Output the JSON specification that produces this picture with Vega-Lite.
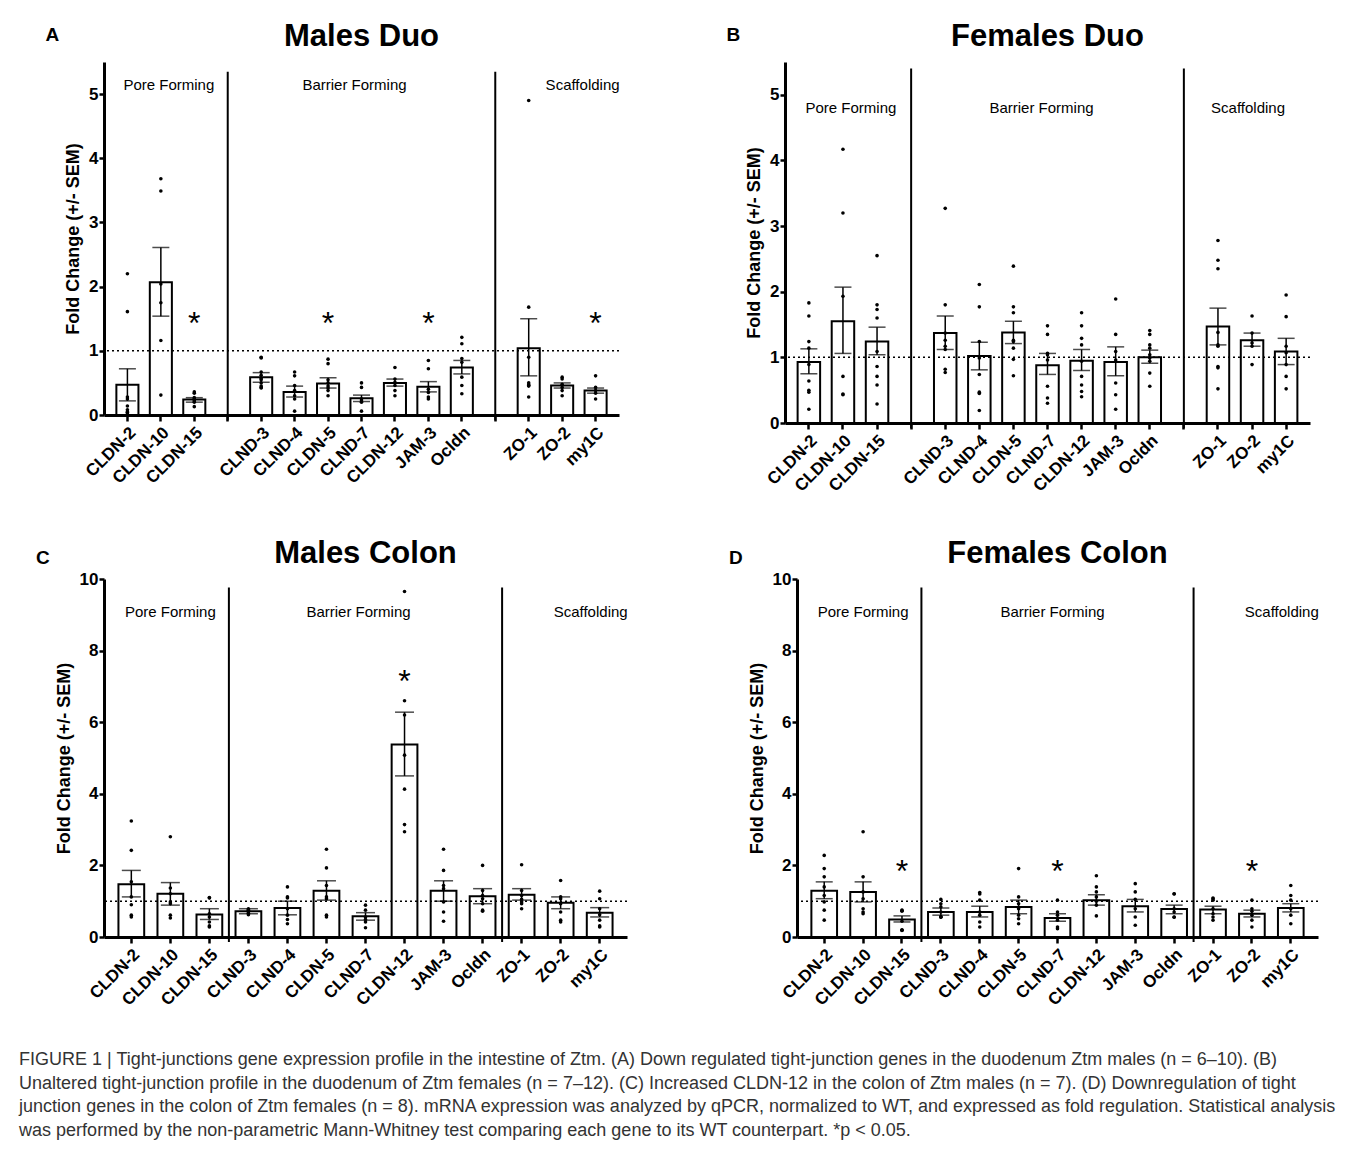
{
"$schema": "https://vega.github.io/schema/vega-lite/v6.json",
"background": "white",
"padding": {"left": 19, "top": 21, "right": 5, "bottom": 5},
"config": {"font": "Liberation Sans", "view": {"stroke": null}, "axis": {"domainColor": "black", "tickColor": "black", "labelColor": "black", "titleColor": "black", "grid": false}},
"title": {"text": ["FIGURE 1 | Tight-junctions gene expression profile in the intestine of Ztm. (A) Down regulated tight-junction genes in the duodenum Ztm males (n = 6–10). (B)", "Unaltered tight-junction profile in the duodenum of Ztm females (n = 7–12). (C) Increased CLDN-12 in the colon of Ztm males (n = 7). (D) Downregulation of tight", "junction genes in the colon of Ztm females (n = 8). mRNA expression was analyzed by qPCR, normalized to WT, and expressed as fold regulation. Statistical analysis", "was performed by the non-parametric Mann-Whitney test comparing each gene to its WT counterpart. *p < 0.05."], "orient": "bottom", "anchor": "start", "frame": "bounds", "fontSize": 18, "fontWeight": "normal", "color": "#333333", "lineHeight": 23.5, "offset": 43, "dx": -17},
"datasets": {
"summary": [
{"p":"A","g":"CLDN-2","m":0.47,"lo":0.22,"hi":0.72},{"p":"A","g":"CLDN-10","m":2.07,"lo":1.54,"hi":2.61},{"p":"A","g":"CLDN-15","m":0.24,"lo":0.2,"hi":0.27},{"p":"A","g":"CLND-3","m":0.59,"lo":0.51,"hi":0.66},{"p":"A","g":"CLND-4","m":0.36,"lo":0.28,"hi":0.45},{"p":"A","g":"CLDN-5","m":0.49,"lo":0.42,"hi":0.58},{"p":"A","g":"CLND-7","m":0.26,"lo":0.21,"hi":0.31},{"p":"A","g":"CLDN-12","m":0.5,"lo":0.45,"hi":0.56},{"p":"A","g":"JAM-3","m":0.44,"lo":0.36,"hi":0.52},{"p":"A","g":"Ocldn","m":0.74,"lo":0.64,"hi":0.85},{"p":"A","g":"ZO-1","m":1.04,"lo":0.61,"hi":1.5},{"p":"A","g":"ZO-2","m":0.46,"lo":0.42,"hi":0.5},{"p":"A","g":"my1C","m":0.38,"lo":0.34,"hi":0.42},
{"p":"B","g":"CLDN-2","m":0.93,"lo":0.75,"hi":1.13},{"p":"B","g":"CLDN-10","m":1.55,"lo":1.06,"hi":2.07},{"p":"B","g":"CLDN-15","m":1.24,"lo":1.04,"hi":1.46},{"p":"B","g":"CLND-3","m":1.37,"lo":1.12,"hi":1.63},{"p":"B","g":"CLND-4","m":1.02,"lo":0.81,"hi":1.23},{"p":"B","g":"CLDN-5","m":1.38,"lo":1.21,"hi":1.55},{"p":"B","g":"CLND-7","m":0.88,"lo":0.74,"hi":1.06},{"p":"B","g":"CLDN-12","m":0.95,"lo":0.8,"hi":1.12},{"p":"B","g":"JAM-3","m":0.93,"lo":0.72,"hi":1.16},{"p":"B","g":"Ocldn","m":1.0,"lo":0.91,"hi":1.11},{"p":"B","g":"ZO-1","m":1.47,"lo":1.19,"hi":1.75},{"p":"B","g":"ZO-2","m":1.26,"lo":1.17,"hi":1.37},{"p":"B","g":"my1C","m":1.09,"lo":0.89,"hi":1.29},
{"p":"C","g":"CLDN-2","m":1.47,"lo":1.12,"hi":1.86},{"p":"C","g":"CLDN-10","m":1.21,"lo":0.89,"hi":1.52},{"p":"C","g":"CLDN-15","m":0.63,"lo":0.49,"hi":0.79},{"p":"C","g":"CLND-3","m":0.72,"lo":0.65,"hi":0.79},{"p":"C","g":"CLND-4","m":0.81,"lo":0.62,"hi":1.0},{"p":"C","g":"CLDN-5","m":1.29,"lo":1.03,"hi":1.57},{"p":"C","g":"CLND-7","m":0.58,"lo":0.47,"hi":0.68},{"p":"C","g":"CLDN-12","m":5.38,"lo":4.5,"hi":6.28},{"p":"C","g":"JAM-3","m":1.29,"lo":1.0,"hi":1.57},{"p":"C","g":"Ocldn","m":1.14,"lo":0.93,"hi":1.35},{"p":"C","g":"ZO-1","m":1.18,"lo":1.03,"hi":1.35},{"p":"C","g":"ZO-2","m":0.96,"lo":0.79,"hi":1.12},{"p":"C","g":"my1C","m":0.68,"lo":0.56,"hi":0.82},
{"p":"D","g":"CLDN-2","m":1.29,"lo":1.07,"hi":1.54},{"p":"D","g":"CLDN-10","m":1.26,"lo":0.98,"hi":1.54},{"p":"D","g":"CLDN-15","m":0.49,"lo":0.42,"hi":0.59},{"p":"D","g":"CLND-3","m":0.7,"lo":0.61,"hi":0.81},{"p":"D","g":"CLND-4","m":0.7,"lo":0.56,"hi":0.86},{"p":"D","g":"CLDN-5","m":0.84,"lo":0.65,"hi":1.03},{"p":"D","g":"CLND-7","m":0.53,"lo":0.44,"hi":0.65},{"p":"D","g":"CLDN-12","m":1.03,"lo":0.89,"hi":1.18},{"p":"D","g":"JAM-3","m":0.86,"lo":0.7,"hi":1.05},{"p":"D","g":"Ocldn","m":0.78,"lo":0.65,"hi":0.89},{"p":"D","g":"ZO-1","m":0.77,"lo":0.65,"hi":0.86},{"p":"D","g":"ZO-2","m":0.65,"lo":0.56,"hi":0.75},{"p":"D","g":"my1C","m":0.81,"lo":0.7,"hi":0.93}
],
"stars": [
{"p":"A","g":"CLDN-15","y":1.54},{"p":"A","g":"CLDN-5","y":1.54},{"p":"A","g":"JAM-3","y":1.54},{"p":"A","g":"my1C","y":1.54},
{"p":"C","g":"CLDN-12","y":7.34},
{"p":"D","g":"CLDN-15","y":2.05},{"p":"D","g":"CLND-7","y":2.05},{"p":"D","g":"ZO-2","y":2.05}
],
"points": [
{"p":"A","g":"CLDN-2","v":2.2},{"p":"A","g":"CLDN-2","v":1.61},{"p":"A","g":"CLDN-2","v":0.28},{"p":"A","g":"CLDN-2","v":0.25},{"p":"A","g":"CLDN-2","v":0.14},{"p":"A","g":"CLDN-2","v":0.08},{"p":"A","g":"CLDN-2","v":0.05},{"p":"A","g":"CLDN-2","v":0.04},{"p":"A","g":"CLDN-2","v":0.03},
{"p":"A","g":"CLDN-10","v":3.68},{"p":"A","g":"CLDN-10","v":3.49},{"p":"A","g":"CLDN-10","v":2.04},{"p":"A","g":"CLDN-10","v":1.75},{"p":"A","g":"CLDN-10","v":1.16},{"p":"A","g":"CLDN-10","v":0.31},
{"p":"A","g":"CLDN-15","v":0.36},{"p":"A","g":"CLDN-15","v":0.34},{"p":"A","g":"CLDN-15","v":0.27},{"p":"A","g":"CLDN-15","v":0.25},{"p":"A","g":"CLDN-15","v":0.24},{"p":"A","g":"CLDN-15","v":0.22},{"p":"A","g":"CLDN-15","v":0.2},{"p":"A","g":"CLDN-15","v":0.13},
{"p":"A","g":"CLND-3","v":0.9},{"p":"A","g":"CLND-3","v":0.89},{"p":"A","g":"CLND-3","v":0.67},{"p":"A","g":"CLND-3","v":0.62},{"p":"A","g":"CLND-3","v":0.57},{"p":"A","g":"CLND-3","v":0.55},{"p":"A","g":"CLND-3","v":0.5},{"p":"A","g":"CLND-3","v":0.45},{"p":"A","g":"CLND-3","v":0.43},{"p":"A","g":"CLND-3","v":0.42},
{"p":"A","g":"CLND-4","v":0.67},{"p":"A","g":"CLND-4","v":0.61},{"p":"A","g":"CLND-4","v":0.46},{"p":"A","g":"CLND-4","v":0.38},{"p":"A","g":"CLND-4","v":0.3},{"p":"A","g":"CLND-4","v":0.25},{"p":"A","g":"CLND-4","v":0.06},
{"p":"A","g":"CLDN-5","v":0.87},{"p":"A","g":"CLDN-5","v":0.8},{"p":"A","g":"CLDN-5","v":0.55},{"p":"A","g":"CLDN-5","v":0.5},{"p":"A","g":"CLDN-5","v":0.45},{"p":"A","g":"CLDN-5","v":0.42},{"p":"A","g":"CLDN-5","v":0.38},{"p":"A","g":"CLDN-5","v":0.3},
{"p":"A","g":"CLND-7","v":0.5},{"p":"A","g":"CLND-7","v":0.43},{"p":"A","g":"CLND-7","v":0.25},{"p":"A","g":"CLND-7","v":0.22},{"p":"A","g":"CLND-7","v":0.2},{"p":"A","g":"CLND-7","v":0.06},
{"p":"A","g":"CLDN-12","v":0.74},{"p":"A","g":"CLDN-12","v":0.56},{"p":"A","g":"CLDN-12","v":0.51},{"p":"A","g":"CLDN-12","v":0.46},{"p":"A","g":"CLDN-12","v":0.38},{"p":"A","g":"CLDN-12","v":0.3},
{"p":"A","g":"JAM-3","v":0.85},{"p":"A","g":"JAM-3","v":0.72},{"p":"A","g":"JAM-3","v":0.4},{"p":"A","g":"JAM-3","v":0.35},{"p":"A","g":"JAM-3","v":0.28},{"p":"A","g":"JAM-3","v":0.25},
{"p":"A","g":"Ocldn","v":1.21},{"p":"A","g":"Ocldn","v":1.11},{"p":"A","g":"Ocldn","v":0.88},{"p":"A","g":"Ocldn","v":0.82},{"p":"A","g":"Ocldn","v":0.59},{"p":"A","g":"Ocldn","v":0.46},{"p":"A","g":"Ocldn","v":0.33},
{"p":"A","g":"ZO-1","v":4.9},{"p":"A","g":"ZO-1","v":1.68},{"p":"A","g":"ZO-1","v":0.9},{"p":"A","g":"ZO-1","v":0.5},{"p":"A","g":"ZO-1","v":0.47},{"p":"A","g":"ZO-1","v":0.46},{"p":"A","g":"ZO-1","v":0.45},{"p":"A","g":"ZO-1","v":0.28},
{"p":"A","g":"ZO-2","v":0.59},{"p":"A","g":"ZO-2","v":0.56},{"p":"A","g":"ZO-2","v":0.48},{"p":"A","g":"ZO-2","v":0.43},{"p":"A","g":"ZO-2","v":0.38},{"p":"A","g":"ZO-2","v":0.3},
{"p":"A","g":"my1C","v":0.61},{"p":"A","g":"my1C","v":0.43},{"p":"A","g":"my1C","v":0.38},{"p":"A","g":"my1C","v":0.34},{"p":"A","g":"my1C","v":0.25},
{"p":"B","g":"CLDN-2","v":1.83},{"p":"B","g":"CLDN-2","v":1.63},{"p":"B","g":"CLDN-2","v":1.24},{"p":"B","g":"CLDN-2","v":1.14},{"p":"B","g":"CLDN-2","v":0.89},{"p":"B","g":"CLDN-2","v":0.64},{"p":"B","g":"CLDN-2","v":0.5},{"p":"B","g":"CLDN-2","v":0.47},{"p":"B","g":"CLDN-2","v":0.21},
{"p":"B","g":"CLDN-10","v":4.17},{"p":"B","g":"CLDN-10","v":3.2},{"p":"B","g":"CLDN-10","v":1.93},{"p":"B","g":"CLDN-10","v":0.71},{"p":"B","g":"CLDN-10","v":0.44},{"p":"B","g":"CLDN-10","v":0.43},
{"p":"B","g":"CLDN-15","v":2.55},{"p":"B","g":"CLDN-15","v":1.8},{"p":"B","g":"CLDN-15","v":1.73},{"p":"B","g":"CLDN-15","v":1.6},{"p":"B","g":"CLDN-15","v":1.09},{"p":"B","g":"CLDN-15","v":0.86},{"p":"B","g":"CLDN-15","v":0.71},{"p":"B","g":"CLDN-15","v":0.58},{"p":"B","g":"CLDN-15","v":0.29},
{"p":"B","g":"CLND-3","v":3.27},{"p":"B","g":"CLND-3","v":1.8},{"p":"B","g":"CLND-3","v":1.37},{"p":"B","g":"CLND-3","v":1.26},{"p":"B","g":"CLND-3","v":1.17},{"p":"B","g":"CLND-3","v":1.12},{"p":"B","g":"CLND-3","v":0.82},{"p":"B","g":"CLND-3","v":0.77},
{"p":"B","g":"CLND-4","v":2.11},{"p":"B","g":"CLND-4","v":1.77},{"p":"B","g":"CLND-4","v":1.24},{"p":"B","g":"CLND-4","v":0.99},{"p":"B","g":"CLND-4","v":0.74},{"p":"B","g":"CLND-4","v":0.47},{"p":"B","g":"CLND-4","v":0.45},{"p":"B","g":"CLND-4","v":0.19},
{"p":"B","g":"CLDN-5","v":2.39},{"p":"B","g":"CLDN-5","v":1.77},{"p":"B","g":"CLDN-5","v":1.68},{"p":"B","g":"CLDN-5","v":1.26},{"p":"B","g":"CLDN-5","v":1.24},{"p":"B","g":"CLDN-5","v":1.14},{"p":"B","g":"CLDN-5","v":0.97},{"p":"B","g":"CLDN-5","v":0.72},
{"p":"B","g":"CLND-7","v":1.48},{"p":"B","g":"CLND-7","v":1.35},{"p":"B","g":"CLND-7","v":1.06},{"p":"B","g":"CLND-7","v":1.04},{"p":"B","g":"CLND-7","v":0.96},{"p":"B","g":"CLND-7","v":0.56},{"p":"B","g":"CLND-7","v":0.38},{"p":"B","g":"CLND-7","v":0.3},
{"p":"B","g":"CLDN-12","v":1.68},{"p":"B","g":"CLDN-12","v":1.48},{"p":"B","g":"CLDN-12","v":1.29},{"p":"B","g":"CLDN-12","v":1.19},{"p":"B","g":"CLDN-12","v":0.94},{"p":"B","g":"CLDN-12","v":0.71},{"p":"B","g":"CLDN-12","v":0.58},{"p":"B","g":"CLDN-12","v":0.48},{"p":"B","g":"CLDN-12","v":0.4},
{"p":"B","g":"JAM-3","v":1.89},{"p":"B","g":"JAM-3","v":1.35},{"p":"B","g":"JAM-3","v":1.09},{"p":"B","g":"JAM-3","v":0.96},{"p":"B","g":"JAM-3","v":0.61},{"p":"B","g":"JAM-3","v":0.43},{"p":"B","g":"JAM-3","v":0.21},
{"p":"B","g":"Ocldn","v":1.41},{"p":"B","g":"Ocldn","v":1.35},{"p":"B","g":"Ocldn","v":1.19},{"p":"B","g":"Ocldn","v":1.14},{"p":"B","g":"Ocldn","v":1.04},{"p":"B","g":"Ocldn","v":0.99},{"p":"B","g":"Ocldn","v":0.94},{"p":"B","g":"Ocldn","v":0.76},{"p":"B","g":"Ocldn","v":0.56},
{"p":"B","g":"ZO-1","v":2.78},{"p":"B","g":"ZO-1","v":2.48},{"p":"B","g":"ZO-1","v":2.35},{"p":"B","g":"ZO-1","v":1.38},{"p":"B","g":"ZO-1","v":1.19},{"p":"B","g":"ZO-1","v":1.17},{"p":"B","g":"ZO-1","v":0.86},{"p":"B","g":"ZO-1","v":0.84},{"p":"B","g":"ZO-1","v":0.52},
{"p":"B","g":"ZO-2","v":1.63},{"p":"B","g":"ZO-2","v":1.37},{"p":"B","g":"ZO-2","v":1.22},{"p":"B","g":"ZO-2","v":1.17},{"p":"B","g":"ZO-2","v":0.89},
{"p":"B","g":"my1C","v":1.95},{"p":"B","g":"my1C","v":1.62},{"p":"B","g":"my1C","v":1.17},{"p":"B","g":"my1C","v":1.07},{"p":"B","g":"my1C","v":0.89},{"p":"B","g":"my1C","v":0.71},{"p":"B","g":"my1C","v":0.52},
{"p":"C","g":"CLDN-2","v":3.24},{"p":"C","g":"CLDN-2","v":2.42},{"p":"C","g":"CLDN-2","v":1.54},{"p":"C","g":"CLDN-2","v":1.12},{"p":"C","g":"CLDN-2","v":0.9},{"p":"C","g":"CLDN-2","v":0.61},{"p":"C","g":"CLDN-2","v":0.56},
{"p":"C","g":"CLDN-10","v":2.8},{"p":"C","g":"CLDN-10","v":1.37},{"p":"C","g":"CLDN-10","v":1.21},{"p":"C","g":"CLDN-10","v":0.98},{"p":"C","g":"CLDN-10","v":0.93},{"p":"C","g":"CLDN-10","v":0.61},{"p":"C","g":"CLDN-10","v":0.53},
{"p":"C","g":"CLDN-15","v":1.1},{"p":"C","g":"CLDN-15","v":1.09},{"p":"C","g":"CLDN-15","v":0.65},{"p":"C","g":"CLDN-15","v":0.56},{"p":"C","g":"CLDN-15","v":0.42},{"p":"C","g":"CLDN-15","v":0.31},{"p":"C","g":"CLDN-15","v":0.28},
{"p":"C","g":"CLND-3","v":0.79},{"p":"C","g":"CLND-3","v":0.77},{"p":"C","g":"CLND-3","v":0.75},{"p":"C","g":"CLND-3","v":0.72},{"p":"C","g":"CLND-3","v":0.7},{"p":"C","g":"CLND-3","v":0.66},{"p":"C","g":"CLND-3","v":0.62},
{"p":"C","g":"CLND-4","v":1.4},{"p":"C","g":"CLND-4","v":1.12},{"p":"C","g":"CLND-4","v":1.09},{"p":"C","g":"CLND-4","v":0.79},{"p":"C","g":"CLND-4","v":0.61},{"p":"C","g":"CLND-4","v":0.49},{"p":"C","g":"CLND-4","v":0.37},
{"p":"C","g":"CLDN-5","v":2.45},{"p":"C","g":"CLDN-5","v":1.93},{"p":"C","g":"CLDN-5","v":1.44},{"p":"C","g":"CLDN-5","v":1.12},{"p":"C","g":"CLDN-5","v":1.07},{"p":"C","g":"CLDN-5","v":0.61},{"p":"C","g":"CLDN-5","v":0.56},
{"p":"C","g":"CLND-7","v":0.89},{"p":"C","g":"CLND-7","v":0.75},{"p":"C","g":"CLND-7","v":0.56},{"p":"C","g":"CLND-7","v":0.49},{"p":"C","g":"CLND-7","v":0.42},{"p":"C","g":"CLND-7","v":0.26},
{"p":"C","g":"CLDN-12","v":9.65},{"p":"C","g":"CLDN-12","v":6.6},{"p":"C","g":"CLDN-12","v":6.2},{"p":"C","g":"CLDN-12","v":5.08},{"p":"C","g":"CLDN-12","v":4.13},{"p":"C","g":"CLDN-12","v":3.14},{"p":"C","g":"CLDN-12","v":2.94},
{"p":"C","g":"JAM-3","v":2.45},{"p":"C","g":"JAM-3","v":1.86},{"p":"C","g":"JAM-3","v":1.44},{"p":"C","g":"JAM-3","v":1.35},{"p":"C","g":"JAM-3","v":0.98},{"p":"C","g":"JAM-3","v":0.7},{"p":"C","g":"JAM-3","v":0.44},
{"p":"C","g":"Ocldn","v":2.0},{"p":"C","g":"Ocldn","v":1.3},{"p":"C","g":"Ocldn","v":1.16},{"p":"C","g":"Ocldn","v":1.07},{"p":"C","g":"Ocldn","v":0.93},{"p":"C","g":"Ocldn","v":0.75},{"p":"C","g":"Ocldn","v":0.72},
{"p":"C","g":"ZO-1","v":2.02},{"p":"C","g":"ZO-1","v":1.3},{"p":"C","g":"ZO-1","v":1.16},{"p":"C","g":"ZO-1","v":1.05},{"p":"C","g":"ZO-1","v":0.98},{"p":"C","g":"ZO-1","v":0.93},{"p":"C","g":"ZO-1","v":0.79},
{"p":"C","g":"ZO-2","v":1.58},{"p":"C","g":"ZO-2","v":1.12},{"p":"C","g":"ZO-2","v":1.07},{"p":"C","g":"ZO-2","v":0.93},{"p":"C","g":"ZO-2","v":0.7},{"p":"C","g":"ZO-2","v":0.47},{"p":"C","g":"ZO-2","v":0.42},
{"p":"C","g":"my1C","v":1.28},{"p":"C","g":"my1C","v":1.07},{"p":"C","g":"my1C","v":0.79},{"p":"C","g":"my1C","v":0.62},{"p":"C","g":"my1C","v":0.47},{"p":"C","g":"my1C","v":0.31},{"p":"C","g":"my1C","v":0.28},
{"p":"D","g":"CLDN-2","v":2.28},{"p":"D","g":"CLDN-2","v":1.91},{"p":"D","g":"CLDN-2","v":1.68},{"p":"D","g":"CLDN-2","v":1.4},{"p":"D","g":"CLDN-2","v":1.16},{"p":"D","g":"CLDN-2","v":0.98},{"p":"D","g":"CLDN-2","v":0.75},{"p":"D","g":"CLDN-2","v":0.47},
{"p":"D","g":"CLDN-10","v":2.94},{"p":"D","g":"CLDN-10","v":1.68},{"p":"D","g":"CLDN-10","v":1.26},{"p":"D","g":"CLDN-10","v":1.07},{"p":"D","g":"CLDN-10","v":0.79},{"p":"D","g":"CLDN-10","v":0.7},{"p":"D","g":"CLDN-10","v":0.65},
{"p":"D","g":"CLDN-15","v":0.75},{"p":"D","g":"CLDN-15","v":0.74},{"p":"D","g":"CLDN-15","v":0.72},{"p":"D","g":"CLDN-15","v":0.44},{"p":"D","g":"CLDN-15","v":0.19},{"p":"D","g":"CLDN-15","v":0.2},{"p":"D","g":"CLDN-15","v":0.18},
{"p":"D","g":"CLND-3","v":1.05},{"p":"D","g":"CLND-3","v":0.93},{"p":"D","g":"CLND-3","v":0.84},{"p":"D","g":"CLND-3","v":0.7},{"p":"D","g":"CLND-3","v":0.57},{"p":"D","g":"CLND-3","v":0.56},{"p":"D","g":"CLND-3","v":0.55},
{"p":"D","g":"CLND-4","v":1.24},{"p":"D","g":"CLND-4","v":1.2},{"p":"D","g":"CLND-4","v":1.03},{"p":"D","g":"CLND-4","v":0.7},{"p":"D","g":"CLND-4","v":0.61},{"p":"D","g":"CLND-4","v":0.42},{"p":"D","g":"CLND-4","v":0.28},
{"p":"D","g":"CLDN-5","v":1.91},{"p":"D","g":"CLDN-5","v":1.12},{"p":"D","g":"CLDN-5","v":0.93},{"p":"D","g":"CLDN-5","v":0.79},{"p":"D","g":"CLDN-5","v":0.61},{"p":"D","g":"CLDN-5","v":0.51},{"p":"D","g":"CLDN-5","v":0.37},
{"p":"D","g":"CLND-7","v":1.03},{"p":"D","g":"CLND-7","v":0.7},{"p":"D","g":"CLND-7","v":0.61},{"p":"D","g":"CLND-7","v":0.47},{"p":"D","g":"CLND-7","v":0.28},{"p":"D","g":"CLND-7","v":0.23},
{"p":"D","g":"CLDN-12","v":1.71},{"p":"D","g":"CLDN-12","v":1.4},{"p":"D","g":"CLDN-12","v":1.26},{"p":"D","g":"CLDN-12","v":1.12},{"p":"D","g":"CLDN-12","v":1.0},{"p":"D","g":"CLDN-12","v":0.89},{"p":"D","g":"CLDN-12","v":0.59},
{"p":"D","g":"JAM-3","v":1.49},{"p":"D","g":"JAM-3","v":1.26},{"p":"D","g":"JAM-3","v":1.05},{"p":"D","g":"JAM-3","v":0.79},{"p":"D","g":"JAM-3","v":0.56},{"p":"D","g":"JAM-3","v":0.33},
{"p":"D","g":"Ocldn","v":1.21},{"p":"D","g":"Ocldn","v":1.2},{"p":"D","g":"Ocldn","v":0.79},{"p":"D","g":"Ocldn","v":0.7},{"p":"D","g":"Ocldn","v":0.56},{"p":"D","g":"Ocldn","v":0.55},
{"p":"D","g":"ZO-1","v":1.09},{"p":"D","g":"ZO-1","v":1.07},{"p":"D","g":"ZO-1","v":1.03},{"p":"D","g":"ZO-1","v":0.79},{"p":"D","g":"ZO-1","v":0.65},{"p":"D","g":"ZO-1","v":0.56},{"p":"D","g":"ZO-1","v":0.47},
{"p":"D","g":"ZO-2","v":1.03},{"p":"D","g":"ZO-2","v":0.79},{"p":"D","g":"ZO-2","v":0.72},{"p":"D","g":"ZO-2","v":0.61},{"p":"D","g":"ZO-2","v":0.47},{"p":"D","g":"ZO-2","v":0.28},
{"p":"D","g":"my1C","v":1.44},{"p":"D","g":"my1C","v":1.16},{"p":"D","g":"my1C","v":1.03},{"p":"D","g":"my1C","v":0.79},{"p":"D","g":"my1C","v":0.61},{"p":"D","g":"my1C","v":0.37}
]
},
"concat": [
{"hconcat": [
{"title": {"text": "A", "anchor": "start", "frame": "bounds", "fontSize": 19, "fontWeight": "bold", "color": "black", "offset": -24, "dx": -19},
 "vconcat": [{
 "width": 515, "height": 353,
 "title": {"text": "Males Duo", "fontSize": 31, "fontWeight": "bold", "color": "black", "anchor": "middle", "offset": 9},
 "layer": [
  {"data": {"name": "summary"}, "transform": [{"filter": "datum.p==='A'"}], "mark": {"type": "bar", "fill": "white", "stroke": "black", "strokeWidth": 2, "width": {"band": 0.66}},
   "encoding": {
    "x": {"field": "g", "type": "nominal", "scale": {"domain": ["CLDN-2","CLDN-10","CLDN-15","sep1","CLND-3","CLND-4","CLDN-5","CLND-7","CLDN-12","JAM-3","Ocldn","sep2","ZO-1","ZO-2","my1C"], "paddingInner": 0, "paddingOuter": 0.2}, "axis": {"title": null, "labelAngle": -45, "labelFontSize": 17, "labelFontWeight": "bold", "labelExpr": "indexof(datum.label,'sep')===0 ? '' : datum.label", "domainWidth": 3, "tickWidth": 2.5, "tickSize": 6, "labelPadding": 3, "labelOverlap": false}},
    "y": {"field": "m", "type": "quantitative", "scale": {"domain": [0, 5.5], "nice": false}, "axis": {"title": "Fold Change (+/- SEM)", "titleFontSize": 18, "titleFontWeight": "bold", "titlePadding": 6, "values": [0,0.5,1,1.5,2,2.5,3,3.5,4,4.5,5], "labelExpr": "datum.value % 1 === 0 ? '' + datum.value : ''", "labelOverlap": false, "tickSize": {"condition": {"test": "datum.value % 1 !== 0", "value": 3}, "value": 5}, "labelFontSize": 17, "labelFontWeight": "bold", "labelPadding": 1, "domainWidth": 3, "tickWidth": 2.5}}}},
  {"data": {"values": [{}]}, "mark": {"type": "rule", "strokeDash": [2, 3], "strokeWidth": 1.5, "color": "black"}, "encoding": {"y": {"datum": 1, "type": "quantitative"}}},
  {"data": {"values": [{}]}, "mark": {"type": "rule", "strokeWidth": 2, "color": "black"}, "encoding": {"x": {"datum": "sep1", "type": "nominal"}, "y": {"datum": 5.35, "type": "quantitative"}, "y2": {"datum": -0.08}}},
  {"data": {"values": [{}]}, "mark": {"type": "rule", "strokeWidth": 2, "color": "black"}, "encoding": {"x": {"datum": "sep2", "type": "nominal"}, "y": {"datum": 5.35, "type": "quantitative"}, "y2": {"datum": -0.08}}},
  {"data": {"name": "summary"}, "transform": [{"filter": "datum.p==='A'"}], "mark": {"type": "rule", "strokeWidth": 1.5, "color": "black"}, "encoding": {"x": {"field": "g", "type": "nominal"}, "y": {"field": "lo", "type": "quantitative"}, "y2": {"field": "hi"}}},
  {"data": {"name": "summary"}, "transform": [{"filter": "datum.p==='A'"}], "mark": {"type": "tick", "size": 17, "thickness": 1.5, "color": "black"}, "encoding": {"x": {"field": "g", "type": "nominal"}, "y": {"field": "lo", "type": "quantitative"}}},
  {"data": {"name": "summary"}, "transform": [{"filter": "datum.p==='A'"}], "mark": {"type": "tick", "size": 17, "thickness": 1.5, "color": "black"}, "encoding": {"x": {"field": "g", "type": "nominal"}, "y": {"field": "hi", "type": "quantitative"}}},
  {"data": {"name": "points"}, "transform": [{"filter": "datum.p==='A'"}], "mark": {"type": "circle", "size": 13, "color": "black", "opacity": 1}, "encoding": {"x": {"field": "g", "type": "nominal"}, "y": {"field": "v", "type": "quantitative"}}},
  {"data": {"name": "stars"}, "transform": [{"filter": "datum.p==='A'"}], "mark": {"type": "text", "text": "*", "fontSize": 32, "baseline": "alphabetic", "dy": 18, "color": "black"}, "encoding": {"x": {"field": "g", "type": "nominal"}, "y": {"field": "y", "type": "quantitative"}}},
  {"data": {"values": [{}]}, "mark": {"type": "text", "text": "Pore Forming", "dx": 8, "fontSize": 15, "baseline": "alphabetic", "color": "black"}, "encoding": {"x": {"datum": "CLDN-10", "type": "nominal"}, "y": {"datum": 5.06, "type": "quantitative"}}},
  {"data": {"values": [{}]}, "mark": {"type": "text", "text": "Barrier Forming", "dx": -7, "fontSize": 15, "baseline": "alphabetic", "color": "black"}, "encoding": {"x": {"datum": "CLND-7", "type": "nominal"}, "y": {"datum": 5.06, "type": "quantitative"}}},
  {"data": {"values": [{}]}, "mark": {"type": "text", "text": "Scaffolding", "dx": -13, "fontSize": 15, "baseline": "alphabetic", "color": "black"}, "encoding": {"x": {"datum": "my1C", "type": "nominal"}, "y": {"datum": 5.06, "type": "quantitative"}}}
 ]
 }]
},
{"title": {"text": "B", "anchor": "start", "frame": "bounds", "fontSize": 19, "fontWeight": "bold", "color": "black", "offset": -24, "dx": -19},
 "vconcat": [{
 "width": 525, "height": 361,
 "title": {"text": "Females Duo", "fontSize": 31, "fontWeight": "bold", "color": "black", "anchor": "middle", "offset": 9},
 "layer": [
  {"data": {"name": "summary"}, "transform": [{"filter": "datum.p==='B'"}], "mark": {"type": "bar", "fill": "white", "stroke": "black", "strokeWidth": 2, "width": {"band": 0.66}},
   "encoding": {
    "x": {"field": "g", "type": "nominal", "scale": {"domain": ["CLDN-2","CLDN-10","CLDN-15","sep1","CLND-3","CLND-4","CLDN-5","CLND-7","CLDN-12","JAM-3","Ocldn","sep2","ZO-1","ZO-2","my1C"], "paddingInner": 0, "paddingOuter": 0.2}, "axis": {"title": null, "labelAngle": -45, "labelFontSize": 17, "labelFontWeight": "bold", "labelExpr": "indexof(datum.label,'sep')===0 ? '' : datum.label", "domainWidth": 3, "tickWidth": 2.5, "tickSize": 6, "labelPadding": 3, "labelOverlap": false}},
    "y": {"field": "m", "type": "quantitative", "scale": {"domain": [0, 5.5], "nice": false}, "axis": {"title": "Fold Change (+/- SEM)", "titleFontSize": 18, "titleFontWeight": "bold", "titlePadding": 6, "values": [0,0.5,1,1.5,2,2.5,3,3.5,4,4.5,5], "labelExpr": "datum.value % 1 === 0 ? '' + datum.value : ''", "labelOverlap": false, "tickSize": {"condition": {"test": "datum.value % 1 !== 0", "value": 3}, "value": 5}, "labelFontSize": 17, "labelFontWeight": "bold", "labelPadding": 1, "domainWidth": 3, "tickWidth": 2.5}}}},
  {"data": {"values": [{}]}, "mark": {"type": "rule", "strokeDash": [2, 3], "strokeWidth": 1.5, "color": "black"}, "encoding": {"y": {"datum": 1, "type": "quantitative"}}},
  {"data": {"values": [{}]}, "mark": {"type": "rule", "strokeWidth": 2, "color": "black"}, "encoding": {"x": {"datum": "sep1", "type": "nominal"}, "y": {"datum": 5.4, "type": "quantitative"}, "y2": {"datum": -0.08}}},
  {"data": {"values": [{}]}, "mark": {"type": "rule", "strokeWidth": 2, "color": "black"}, "encoding": {"x": {"datum": "sep2", "type": "nominal"}, "y": {"datum": 5.4, "type": "quantitative"}, "y2": {"datum": -0.08}}},
  {"data": {"name": "summary"}, "transform": [{"filter": "datum.p==='B'"}], "mark": {"type": "rule", "strokeWidth": 1.5, "color": "black"}, "encoding": {"x": {"field": "g", "type": "nominal"}, "y": {"field": "lo", "type": "quantitative"}, "y2": {"field": "hi"}}},
  {"data": {"name": "summary"}, "transform": [{"filter": "datum.p==='B'"}], "mark": {"type": "tick", "size": 17, "thickness": 1.5, "color": "black"}, "encoding": {"x": {"field": "g", "type": "nominal"}, "y": {"field": "lo", "type": "quantitative"}}},
  {"data": {"name": "summary"}, "transform": [{"filter": "datum.p==='B'"}], "mark": {"type": "tick", "size": 17, "thickness": 1.5, "color": "black"}, "encoding": {"x": {"field": "g", "type": "nominal"}, "y": {"field": "hi", "type": "quantitative"}}},
  {"data": {"name": "points"}, "transform": [{"filter": "datum.p==='B'"}], "mark": {"type": "circle", "size": 13, "color": "black", "opacity": 1}, "encoding": {"x": {"field": "g", "type": "nominal"}, "y": {"field": "v", "type": "quantitative"}}},
  {"data": {"values": [{}]}, "mark": {"type": "text", "text": "Pore Forming", "dx": 8, "fontSize": 15, "baseline": "alphabetic", "color": "black"}, "encoding": {"x": {"datum": "CLDN-10", "type": "nominal"}, "y": {"datum": 4.72, "type": "quantitative"}}},
  {"data": {"values": [{}]}, "mark": {"type": "text", "text": "Barrier Forming", "dx": -6, "fontSize": 15, "baseline": "alphabetic", "color": "black"}, "encoding": {"x": {"datum": "CLND-7", "type": "nominal"}, "y": {"datum": 4.72, "type": "quantitative"}}},
  {"data": {"values": [{}]}, "mark": {"type": "text", "text": "Scaffolding", "dx": -4, "fontSize": 15, "baseline": "alphabetic", "color": "black"}, "encoding": {"x": {"datum": "ZO-2", "type": "nominal"}, "y": {"datum": 4.72, "type": "quantitative"}}}
 ]
 }]
}
], "spacing": 106},
{"hconcat": [
{"title": {"text": "C", "anchor": "start", "frame": "bounds", "fontSize": 19, "fontWeight": "bold", "color": "black", "offset": -30, "dx": -19},
 "vconcat": [{
 "width": 523, "height": 358,
 "title": {"text": "Males Colon", "fontSize": 31, "fontWeight": "bold", "color": "black", "anchor": "middle", "offset": 0},
 "layer": [
  {"data": {"name": "summary"}, "transform": [{"filter": "datum.p==='C'"}], "mark": {"type": "bar", "fill": "white", "stroke": "black", "strokeWidth": 2, "width": {"band": 0.66}},
   "encoding": {
    "x": {"field": "g", "type": "nominal", "scale": {"domain": ["CLDN-2","CLDN-10","CLDN-15","CLND-3","CLND-4","CLDN-5","CLND-7","CLDN-12","JAM-3","Ocldn","ZO-1","ZO-2","my1C"], "paddingInner": 0, "paddingOuter": 0.2}, "axis": {"title": null, "labelAngle": -45, "labelFontSize": 17, "labelFontWeight": "bold", "domainWidth": 3, "tickWidth": 2.5, "tickSize": 6, "labelPadding": 3, "labelOverlap": false}},
    "y": {"field": "m", "type": "quantitative", "scale": {"domain": [0, 10], "nice": false}, "axis": {"title": "Fold Change (+/- SEM)", "titleFontSize": 18, "titleFontWeight": "bold", "titlePadding": 6, "values": [0,0.5,1,1.5,2,2.5,3,3.5,4,4.5,5,5.5,6,6.5,7,7.5,8,8.5,9,9.5,10], "labelExpr": "datum.value % 1 === 0 ? '' + datum.value : ''", "labelOverlap": false, "tickSize": {"condition": {"test": "datum.value % 1 !== 0", "value": 3}, "value": 5}, "labelFontSize": 17, "labelFontWeight": "bold", "labelPadding": 1, "domainWidth": 3, "tickWidth": 2.5}}}},
  {"data": {"values": [{}]}, "mark": {"type": "rule", "strokeDash": [2, 3], "strokeWidth": 1.5, "color": "black"}, "encoding": {"y": {"datum": 1, "type": "quantitative"}}},
  {"data": {"values": [{}]}, "mark": {"type": "rule", "strokeWidth": 2, "color": "black"}, "encoding": {"x": {"datum": "CLDN-15", "type": "nominal", "bandPosition": 1}, "y": {"datum": 9.76, "type": "quantitative"}, "y2": {"datum": -0.14}}},
  {"data": {"values": [{}]}, "mark": {"type": "rule", "strokeWidth": 2, "color": "black"}, "encoding": {"x": {"datum": "Ocldn", "type": "nominal", "bandPosition": 1}, "y": {"datum": 9.76, "type": "quantitative"}, "y2": {"datum": -0.14}}},
  {"data": {"name": "summary"}, "transform": [{"filter": "datum.p==='C'"}], "mark": {"type": "rule", "strokeWidth": 1.5, "color": "black"}, "encoding": {"x": {"field": "g", "type": "nominal"}, "y": {"field": "lo", "type": "quantitative"}, "y2": {"field": "hi"}}},
  {"data": {"name": "summary"}, "transform": [{"filter": "datum.p==='C'"}], "mark": {"type": "tick", "size": 19, "thickness": 1.5, "color": "black"}, "encoding": {"x": {"field": "g", "type": "nominal"}, "y": {"field": "lo", "type": "quantitative"}}},
  {"data": {"name": "summary"}, "transform": [{"filter": "datum.p==='C'"}], "mark": {"type": "tick", "size": 19, "thickness": 1.5, "color": "black"}, "encoding": {"x": {"field": "g", "type": "nominal"}, "y": {"field": "hi", "type": "quantitative"}}},
  {"data": {"name": "points"}, "transform": [{"filter": "datum.p==='C'"}], "mark": {"type": "circle", "size": 13, "color": "black", "opacity": 1}, "encoding": {"x": {"field": "g", "type": "nominal"}, "y": {"field": "v", "type": "quantitative"}}},
  {"data": {"name": "stars"}, "transform": [{"filter": "datum.p==='C'"}], "mark": {"type": "text", "text": "*", "fontSize": 32, "baseline": "alphabetic", "dy": 18, "color": "black"}, "encoding": {"x": {"field": "g", "type": "nominal"}, "y": {"field": "y", "type": "quantitative"}}},
  {"data": {"values": [{}]}, "mark": {"type": "text", "text": "Pore Forming", "dx": 0, "fontSize": 15, "baseline": "alphabetic", "color": "black"}, "encoding": {"x": {"datum": "CLDN-10", "type": "nominal"}, "y": {"datum": 8.93, "type": "quantitative"}}},
  {"data": {"values": [{}]}, "mark": {"type": "text", "text": "Barrier Forming", "dx": -7, "fontSize": 15, "baseline": "alphabetic", "color": "black"}, "encoding": {"x": {"datum": "CLND-7", "type": "nominal"}, "y": {"datum": 8.93, "type": "quantitative"}}},
  {"data": {"values": [{}]}, "mark": {"type": "text", "text": "Scaffolding", "dx": -9, "fontSize": 15, "baseline": "alphabetic", "color": "black"}, "encoding": {"x": {"datum": "my1C", "type": "nominal"}, "y": {"datum": 8.93, "type": "quantitative"}}}
 ]
 }]
},
{"title": {"text": "D", "anchor": "start", "frame": "bounds", "fontSize": 19, "fontWeight": "bold", "color": "black", "offset": -30, "dx": -19},
 "vconcat": [{
 "width": 521, "height": 358,
 "title": {"text": "Females Colon", "fontSize": 31, "fontWeight": "bold", "color": "black", "anchor": "middle", "offset": 0},
 "layer": [
  {"data": {"name": "summary"}, "transform": [{"filter": "datum.p==='D'"}], "mark": {"type": "bar", "fill": "white", "stroke": "black", "strokeWidth": 2, "width": {"band": 0.66}},
   "encoding": {
    "x": {"field": "g", "type": "nominal", "scale": {"domain": ["CLDN-2","CLDN-10","CLDN-15","CLND-3","CLND-4","CLDN-5","CLND-7","CLDN-12","JAM-3","Ocldn","ZO-1","ZO-2","my1C"], "paddingInner": 0, "paddingOuter": 0.2}, "axis": {"title": null, "labelAngle": -45, "labelFontSize": 17, "labelFontWeight": "bold", "domainWidth": 3, "tickWidth": 2.5, "tickSize": 6, "labelPadding": 3, "labelOverlap": false}},
    "y": {"field": "m", "type": "quantitative", "scale": {"domain": [0, 10], "nice": false}, "axis": {"title": "Fold Change (+/- SEM)", "titleFontSize": 18, "titleFontWeight": "bold", "titlePadding": 6, "values": [0,0.5,1,1.5,2,2.5,3,3.5,4,4.5,5,5.5,6,6.5,7,7.5,8,8.5,9,9.5,10], "labelExpr": "datum.value % 1 === 0 ? '' + datum.value : ''", "labelOverlap": false, "tickSize": {"condition": {"test": "datum.value % 1 !== 0", "value": 3}, "value": 5}, "labelFontSize": 17, "labelFontWeight": "bold", "labelPadding": 1, "domainWidth": 3, "tickWidth": 2.5}}}},
  {"data": {"values": [{}]}, "mark": {"type": "rule", "strokeDash": [2, 3], "strokeWidth": 1.5, "color": "black"}, "encoding": {"y": {"datum": 1, "type": "quantitative"}}},
  {"data": {"values": [{}]}, "mark": {"type": "rule", "strokeWidth": 2, "color": "black"}, "encoding": {"x": {"datum": "CLDN-15", "type": "nominal", "bandPosition": 1}, "y": {"datum": 9.76, "type": "quantitative"}, "y2": {"datum": -0.14}}},
  {"data": {"values": [{}]}, "mark": {"type": "rule", "strokeWidth": 2, "color": "black"}, "encoding": {"x": {"datum": "Ocldn", "type": "nominal", "bandPosition": 1}, "y": {"datum": 9.76, "type": "quantitative"}, "y2": {"datum": -0.14}}},
  {"data": {"name": "summary"}, "transform": [{"filter": "datum.p==='D'"}], "mark": {"type": "rule", "strokeWidth": 1.5, "color": "black"}, "encoding": {"x": {"field": "g", "type": "nominal"}, "y": {"field": "lo", "type": "quantitative"}, "y2": {"field": "hi"}}},
  {"data": {"name": "summary"}, "transform": [{"filter": "datum.p==='D'"}], "mark": {"type": "tick", "size": 17, "thickness": 1.5, "color": "black"}, "encoding": {"x": {"field": "g", "type": "nominal"}, "y": {"field": "lo", "type": "quantitative"}}},
  {"data": {"name": "summary"}, "transform": [{"filter": "datum.p==='D'"}], "mark": {"type": "tick", "size": 17, "thickness": 1.5, "color": "black"}, "encoding": {"x": {"field": "g", "type": "nominal"}, "y": {"field": "hi", "type": "quantitative"}}},
  {"data": {"name": "points"}, "transform": [{"filter": "datum.p==='D'"}], "mark": {"type": "circle", "size": 13, "color": "black", "opacity": 1}, "encoding": {"x": {"field": "g", "type": "nominal"}, "y": {"field": "v", "type": "quantitative"}}},
  {"data": {"name": "stars"}, "transform": [{"filter": "datum.p==='D'"}], "mark": {"type": "text", "text": "*", "fontSize": 32, "baseline": "alphabetic", "dy": 18, "color": "black"}, "encoding": {"x": {"field": "g", "type": "nominal"}, "y": {"field": "y", "type": "quantitative"}}},
  {"data": {"values": [{}]}, "mark": {"type": "text", "text": "Pore Forming", "dx": 0, "fontSize": 15, "baseline": "alphabetic", "color": "black"}, "encoding": {"x": {"datum": "CLDN-10", "type": "nominal"}, "y": {"datum": 8.93, "type": "quantitative"}}},
  {"data": {"values": [{}]}, "mark": {"type": "text", "text": "Barrier Forming", "dx": -5, "fontSize": 15, "baseline": "alphabetic", "color": "black"}, "encoding": {"x": {"datum": "CLND-7", "type": "nominal"}, "y": {"datum": 8.93, "type": "quantitative"}}},
  {"data": {"values": [{}]}, "mark": {"type": "text", "text": "Scaffolding", "dx": -9, "fontSize": 15, "baseline": "alphabetic", "color": "black"}, "encoding": {"x": {"datum": "my1C", "type": "nominal"}, "y": {"datum": 8.93, "type": "quantitative"}}}
 ]
 }]
}
], "spacing": 101}
], "columns": 1, "align": "none", "spacing": 43
}
